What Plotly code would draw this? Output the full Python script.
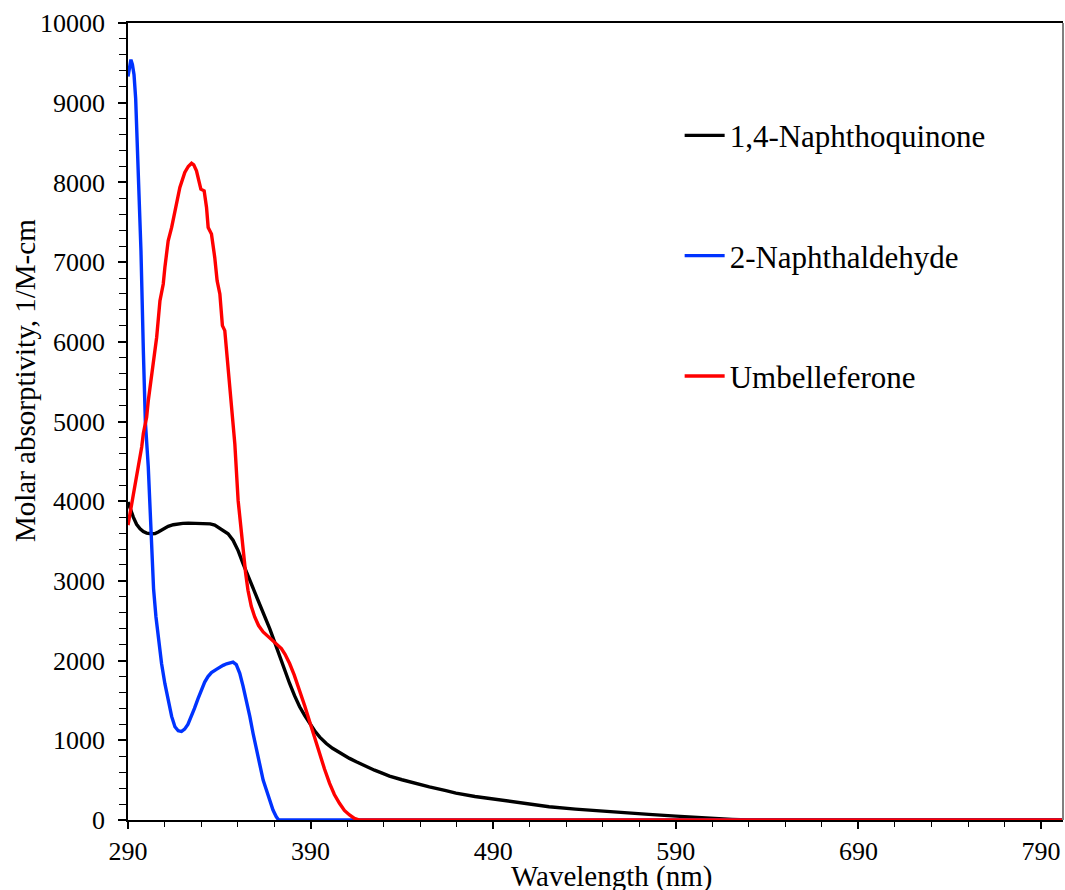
import plotly.graph_objects as go

# 1,4-Naphthoquinone
nq_x = [290, 291.5, 292.9, 294.7, 296.6, 298.4, 300.2, 302.9, 304.8, 306.6, 308.4, 310.2, 312, 314.8,
        317.5, 320, 323, 326, 329, 332, 335, 337.5, 339.3, 342, 344.8, 347.5, 350.3, 353, 356.7, 360.3,
        364, 367.6, 370.4, 373.1, 375.8, 378.5, 381.2, 384, 386.8, 389.5, 392.2, 395, 398.6, 402, 407.7,
        411.3, 415, 420.4, 425, 429.5, 433.2, 440, 447.8, 455, 464.1, 469.6, 480, 493.3, 505, 520.6, 535,
        547.9, 560, 575.2, 590, 602.6, 612, 620.8, 630, 700, 802]
nq_y = [3990, 3880, 3800, 3710, 3655, 3620, 3600, 3592, 3595, 3613, 3640, 3665, 3684, 3705,
        3718, 3722, 3725, 3725, 3722, 3718, 3715, 3700, 3675, 3640, 3592, 3510, 3380, 3216, 3010, 2810,
        2610, 2400, 2225, 2046, 1880, 1713, 1560, 1420, 1310, 1211, 1120, 1040, 960, 900, 815,
        773, 730, 668, 625, 585, 550, 505, 455, 415, 368, 338, 295, 251, 210, 167, 137,
        113, 92, 71, 48, 29, 17, 8, 0, 0, 0]

# 2-Naphthaldehyde
na_x = [290, 291, 291.6, 292.4, 293.3, 294.2, 295.3, 296.2, 297.1, 298.4, 299.5, 301.1, 302.9, 304,
        305.3, 306.6, 308.4, 310.2, 312, 313.9, 315.7, 317.5, 319.3, 321, 322.8, 324.6, 326.4, 328.3,
        330.1, 332, 333.8, 335.7, 338.4, 340.3, 342.1, 344, 345.8, 347.5, 349.3, 351.2, 353, 354.9,
        356.7, 358.5, 360.3, 362.1, 364, 365.8, 367.6, 369.4, 371.2, 372.5, 450, 802]
na_y = [9330, 9480, 9540, 9480, 9350, 9050, 8400, 7700, 7140, 5890, 5000, 4430, 3470, 2900,
        2550, 2300, 1960, 1710, 1490, 1300, 1170, 1120, 1110, 1140, 1200, 1290, 1400, 1520,
        1630, 1730, 1800, 1850, 1890, 1920, 1940, 1960, 1975, 1980, 1950, 1840, 1680, 1500,
        1300, 1086, 880, 670, 500, 376, 250, 125, 40, 0, 0, 0]

# Umbelleferone
um_x = [290, 292, 293.5, 294.7, 296, 297.5, 298.4, 300.2, 301.1, 302.9, 304.3, 305.7, 307.5, 309.3,
        310.2, 312, 313.9, 315.7, 318.4, 321.1, 323, 324.8, 326, 327.5, 329, 329.9, 331.7, 333, 333.9,
        335.7, 337.5, 338.8, 340.3, 341.7, 343, 344.8, 346.7, 348.5, 350.3, 352, 353, 354.4, 355.7,
        357.5, 359.4, 361.5, 364, 367, 369.4, 372, 374, 376, 378.5, 381, 384, 386.8, 389.5, 392.2,
        394.9, 397.6, 400.4, 403, 405.8, 408.5, 411.3, 414, 416.8, 500, 802]
um_y = [3700, 3950, 4150, 4300, 4480, 4680, 4850, 5054, 5260, 5555, 5800, 6057, 6516, 6725,
        6934, 7268, 7435, 7644, 7936, 8124, 8200, 8240, 8220, 8145, 8000, 7915, 7895, 7686, 7435,
        7352, 7059, 6767, 6600, 6203, 6140, 5681, 5221, 4720, 4010, 3600, 3383, 3100, 2882,
        2680, 2548, 2440, 2360, 2300, 2256, 2200, 2151, 2080, 1963, 1820, 1629, 1430, 1232, 1030,
        835, 640, 460, 320, 209, 120, 63, 20, 0, 0, 0]

series = [
    ("1,4-Naphthoquinone", nq_x, nq_y, "#000000"),
    ("2-Naphthaldehyde", na_x, na_y, "#0033FF"),
    ("Umbelleferone", um_x, um_y, "#FF0000"),
]

FONT = "Liberation Serif, Times New Roman, serif"

fig = go.Figure()
for i, (name, xs, ys, col) in enumerate(series):
    fig.add_trace(go.Scatter(x=xs, y=ys, mode="lines", name=name,
                             line=dict(color=col, width=3.4), legendgroup=f"g{i}"))

fig.update_layout(
    width=1065, height=890,
    margin=dict(l=128, r=2, t=23, b=70),
    paper_bgcolor="white", plot_bgcolor="white",
    font=dict(family=FONT, color="black"),
    showlegend=True,
    legend=dict(x=0.590, y=0.8925, xanchor="left", yanchor="top",
                font=dict(family=FONT, size=31, color="black"),
                tracegroupgap=77, bgcolor="rgba(0,0,0,0)", itemwidth=40),
    xaxis=dict(range=[290, 802], tick0=290, dtick=100, ticks="outside", ticklen=7,
               tickwidth=1.5, tickcolor="black", showline=True, linecolor="black",
               linewidth=1.5, mirror=True, showgrid=False, zeroline=False,
               tickfont=dict(family=FONT, size=26, color="black"),
               minor=dict(dtick=20, tick0=290, ticks="outside", ticklen=5,
                          tickcolor="black", tickwidth=1, showgrid=False)),
    yaxis=dict(range=[0, 10000], tick0=0, dtick=1000, ticks="outside", ticklen=8,
               tickwidth=1.5, tickcolor="black", showline=True, linecolor="black",
               linewidth=1.5, showgrid=False, zeroline=False, tickformat="d",
               tickfont=dict(family=FONT, size=26, color="black"),
               ticklabelstandoff=8,
               minor=dict(dtick=200, ticks="outside", ticklen=7,
                          tickcolor="black", tickwidth=1, showgrid=False)),
    annotations=[
        dict(text="Molar absorptivity, 1/M-cm", xref="paper", yref="paper",
             x=-0.110, y=0.551, xanchor="center", yanchor="middle", textangle=-90,
             showarrow=False, font=dict(family=FONT, size=29, color="black")),
        dict(text="Wavelength (nm)", xref="paper", yref="paper",
             x=0.517, y=-0.0715, xanchor="center", yanchor="middle",
             showarrow=False, font=dict(family=FONT, size=29, color="black")),
    ],
    shapes=[dict(type="line", xref="paper", yref="paper", x0=1, x1=1, y0=0, y1=1,
                 line=dict(color="#808080", width=2))],
)

fig.write_html("out.html")
